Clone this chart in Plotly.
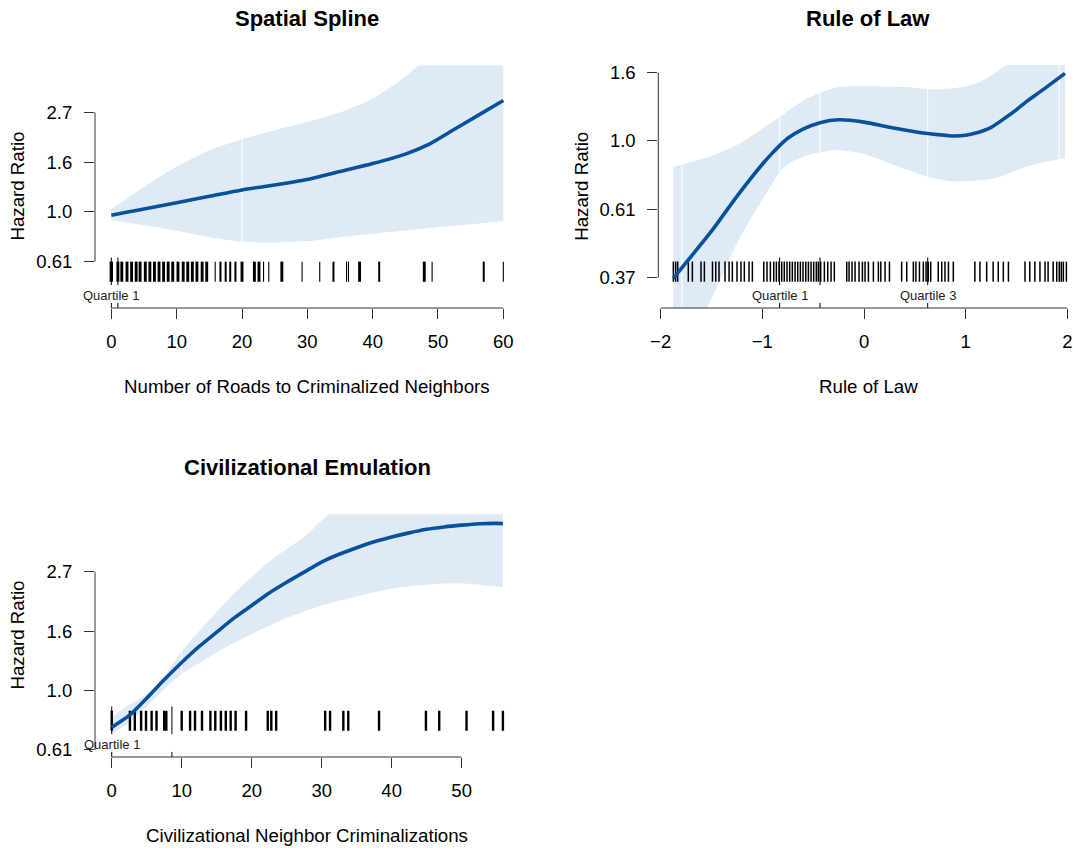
import numpy as np
import plotly.graph_objects as go

W, H = 1073, 848
FONT = "Liberation Sans, Arial, Helvetica, sans-serif"
FIT_COLOR = "#08519c"
BAND_COLOR = "#deebf7"
AXIS_COLOR = "#333333"

# ---------------- data (log hazard ratio scale) ----------------
# Spatial spline: number of roads to criminalized neighbours
roads_x = [0, 2.5, 5, 10, 15, 20, 25, 30, 35, 40, 45, 48.5, 52, 56, 60]
roads_fit = [-0.035, -0.003, 0.029, 0.092, 0.156, 0.22, 0.27, 0.325, 0.405, 0.485, 0.58, 0.675, 0.81, 0.965, 1.12]
roads_hi = [0.03, 0.14, 0.25, 0.455, 0.62, 0.73, 0.82, 0.905, 1.0, 1.14, 1.36, 1.56, 1.76, 2.0, 2.25]
roads_lo = [-0.085, -0.11, -0.135, -0.19, -0.255, -0.30, -0.31, -0.295, -0.255, -0.22, -0.187, -0.165, -0.143, -0.12, -0.096]
roads_rug = [0, 1, 1.6, 2.4, 3.1, 3.8, 4.4, 5.2, 5.9, 6.6, 7.3, 8.0, 8.7, 9.4, 10.2, 11.0, 11.7,
             12.4, 13.1, 13.9, 14.6, 15.9, 16.7, 17.5, 18.2, 19.0, 20.0, 21.9, 22.6, 23.3, 24.1,
             26.1, 29.2, 31.9, 34.0, 36.0, 36.3, 38.0, 41.0, 47.9, 49.1, 57.0, 60.0]
roads_rug_n = [4, 3, 3, 3, 3, 3, 3, 3, 3, 3, 3, 3, 3, 3, 3, 3, 3,
               3, 3, 3, 3, 1, 2, 2, 2, 2, 3, 3, 3, 1, 1,
               3, 1, 1, 2, 1, 1, 3, 2, 3, 1, 2, 1]
roads_seams = [20]
roads_quart = [0, 1]
roads_quart_lab = ["Quartile 1", ""]

# Rule of law
rol_x = [-1.875, -1.75, -1.5, -1.25, -1.0, -0.9, -0.826, -0.75, -0.6, -0.433, -0.25, 0, 0.25, 0.5,
         0.626, 0.75, 0.875, 1.0, 1.1, 1.25, 1.4, 1.5, 1.6, 1.75, 1.976]
rol_fit = [-1.005, -0.89, -0.66, -0.405, -0.17, -0.087, -0.03, 0.02, 0.087, 0.134, 0.155, 0.138, 0.10, 0.068,
           0.055, 0.045, 0.037, 0.042, 0.058, 0.10, 0.175, 0.23, 0.29, 0.37, 0.495]
rol_hi = [-0.19, -0.163, -0.11, -0.03, 0.09, 0.14, 0.178, 0.22, 0.295, 0.353, 0.395, 0.40, 0.398, 0.39,
          0.378, 0.378, 0.385, 0.40, 0.42, 0.48, 0.56, 0.64, 0.72, 0.84, 1.05]
rol_lo = [-1.83, -1.58, -1.155, -0.75, -0.43, -0.31, -0.224, -0.17, -0.115, -0.083, -0.066, -0.095, -0.165, -0.23,
          -0.261, -0.282, -0.297, -0.295, -0.29, -0.278, -0.245, -0.215, -0.188, -0.16, -0.127]
rol_rug = [-1.875, -1.852, -1.832, -1.728, -1.688, -1.603, -1.57, -1.49, -1.458, -1.426, -1.367,
           -1.327, -1.295, -1.249, -1.21, -1.177, -1.131, -1.098, -0.986, -0.954, -0.921, -0.888,
           -0.862, -0.836, -0.809, -0.784, -0.757, -0.731, -0.705, -0.678, -0.652, -0.626, -0.6,
           -0.573, -0.547, -0.521, -0.495, -0.469, -0.449, -0.426, -0.39, -0.357, -0.324, -0.292,
           -0.17, -0.147, -0.118, -0.088, -0.049, -0.016, 0.01, 0.043, 0.092, 0.141, 0.165, 0.207,
           0.25, 0.37, 0.42, 0.485, 0.51, 0.545, 0.583, 0.61, 0.632, 0.656, 0.73, 0.764, 0.796,
           0.83, 0.878, 1.09, 1.14, 1.206, 1.27, 1.32, 1.37, 1.42, 1.583, 1.63, 1.68, 1.73, 1.78,
           1.81, 1.86, 1.895, 1.92, 1.94, 1.96, 1.99]
rol_seams = [-1.79, -0.83, -0.433, 0.626, 1.92]
rol_quart = [-0.83, -0.433, 0.626]
rol_quart_lab = ["Quartile 1", "", "Quartile 3"]

# Civilizational emulation
civ_x = [0, 2.5, 5, 7.5, 10, 12.5, 15, 17.5, 20, 22.5, 25, 27.5, 30, 32.5, 35, 37.5, 40, 42.5,
         45, 47.5, 50, 52.5, 55, 55.9]
civ_fit = [-0.31, -0.21, -0.065, 0.09, 0.235, 0.37, 0.49, 0.61, 0.715, 0.82, 0.91, 0.995, 1.08,
           1.145, 1.2, 1.25, 1.29, 1.325, 1.355, 1.375, 1.39, 1.402, 1.405, 1.403]
civ_hi = [-0.22, -0.12, -0.03, 0.12, 0.33, 0.5, 0.66, 0.82, 0.955, 1.085, 1.19, 1.29, 1.43, 1.56,
          1.68, 1.78, 1.88, 1.95, 2.0, 2.04, 2.07, 2.09, 2.1, 2.1]
civ_lo = [-0.37, -0.27, -0.135, 0.01, 0.14, 0.23, 0.32, 0.40, 0.475, 0.545, 0.61, 0.665, 0.715,
          0.755, 0.79, 0.825, 0.855, 0.875, 0.89, 0.9, 0.9, 0.89, 0.875, 0.87]
civ_rug = [0, 2.6, 3.3, 4.2, 4.9, 5.7, 6.4, 7.5, 7.8, 10.0, 11.2, 11.9, 12.9, 14.1, 14.8, 15.6,
           16.3, 17.0, 17.7, 19.2, 22.3, 22.8, 23.5, 30.5, 31.2, 33.1, 33.8, 38.2, 44.9, 46.8,
           50.7, 54.5, 55.9]
civ_seams = [10]
civ_quart = [0, 8.6]
civ_quart_lab = ["Quartile 1", ""]

# y ticks sit at log HR = -1, -0.5, 0, 0.5, 1
hr_ticks_a = [-0.5, 0, 0.5, 1]
hr_labels_a = ["0.61", "1.0", "1.6", "2.7"]
hr_ticks_b = [-1, -0.5, 0, 0.5]
hr_labels_b = ["0.37", "0.61", "1.0", "1.6"]

panels = [
    dict(title="Spatial Spline", xtitle="Number of Roads to Criminalized Neighbors",
         x=roads_x, fit=roads_fit, hi=roads_hi, lo=roads_lo,
         rug=roads_rug, rug_n=roads_rug_n, rug_w=2.2, seams=roads_seams,
         quart=roads_quart, quart_lab=roads_quart_lab,
         xticks=[0, 10, 20, 30, 40, 50, 60], xlabels=["0", "10", "20", "30", "40", "50", "60"],
         yticks=hr_ticks_a, ylabels=hr_labels_a, cx=307,
         px=(95, 519), py=(65.2, 308), xrange=[-2.5, 62.4], yrange=[-0.968, 1.475]),
    dict(title="Rule of Law", xtitle="Rule of Law",
         x=rol_x, fit=rol_fit, hi=rol_hi, lo=rol_lo,
         rug=rol_rug, rug_n=None, rug_w=1.5, seams=rol_seams,
         quart=rol_quart, quart_lab=rol_quart_lab,
         xticks=[-2, -1, 0, 1, 2], xlabels=["\u22122", "\u22121", "0", "1", "2"],
         yticks=hr_ticks_b, ylabels=hr_labels_b, cx=868,
         px=(658.3, 1073), py=(65, 308), xrange=[-2.023, 2.055], yrange=[-1.222, 0.556]),
    dict(title="Civilizational Emulation", xtitle="Civilizational Neighbor Criminalizations",
         x=civ_x, fit=civ_fit, hi=civ_hi, lo=civ_lo,
         rug=civ_rug, rug_n=None, rug_w=2.4, seams=civ_seams,
         quart=civ_quart, quart_lab=civ_quart_lab,
         xticks=[0, 10, 20, 30, 40, 50], xlabels=["0", "10", "20", "30", "40", "50"],
         yticks=hr_ticks_a, ylabels=hr_labels_a, cx=307,
         px=(95, 519), py=(514.2, 757), xrange=[-2.39, 58.2], yrange=[-0.559, 1.482]),
]

# rug / quartile marker heights as fractions of the panel height
RUG_Y = (0.108, 0.191)
QLINE_Y = (0.094, 0.208)
QTICK_Y = (0.0, 0.021)
QLAB_Y = 0.052
RUG_WIDTHS = {1: 1.1, 2: 2.0, 3: 2.9, 4: 3.4}
SMOOTH = dict(shape="spline", smoothing=0.7)


def to_data(frac, yr):
    return yr[0] + frac * (yr[1] - yr[0])


fig = go.Figure()
layout = dict(annotations=[], shapes=[])

for i, p in enumerate(panels, start=1):
    sfx = "" if i == 1 else str(i)
    xa, ya = "x" + sfx, "y" + sfx
    x = np.array(p["x"], dtype=float)
    fit = np.array(p["fit"], dtype=float)
    hi = np.array(p["hi"], dtype=float)
    lo = np.array(p["lo"], dtype=float)
    yr = p["yrange"]

    # confidence band: lower edge, then upper edge filled down to it
    fig.add_trace(go.Scatter(x=x, y=lo, mode="lines", line=dict(width=0, **SMOOTH),
                             hoverinfo="skip", showlegend=False, xaxis=xa, yaxis=ya))
    fig.add_trace(go.Scatter(x=x, y=hi, mode="lines", line=dict(width=0, **SMOOTH),
                             fill="tonexty", fillcolor=BAND_COLOR,
                             hoverinfo="skip", showlegend=False, xaxis=xa, yaxis=ya))

    # thin white seams between band pieces
    sx, sy = [], []
    for s in p["seams"]:
        sx += [s, s, None]
        sy += [float(np.interp(s, x, lo)), float(np.interp(s, x, hi)), None]
    fig.add_trace(go.Scatter(x=sx, y=sy, mode="lines", line=dict(color="white", width=1),
                             hoverinfo="skip", showlegend=False, xaxis=xa, yaxis=ya))

    # rug of observed values
    r0, r1 = to_data(RUG_Y[0], yr), to_data(RUG_Y[1], yr)
    groups = {}
    if p["rug_n"] is not None:
        for v, n in zip(p["rug"], p["rug_n"]):
            groups.setdefault(RUG_WIDTHS[n], []).append(v)
    else:
        groups[p["rug_w"]] = list(p["rug"])
    for width, vals in sorted(groups.items()):
        gx, gy = [], []
        for v in vals:
            gx += [v, v, None]
            gy += [r0, r1, None]
        fig.add_trace(go.Scatter(x=gx, y=gy, mode="lines", line=dict(color="black", width=width),
                                 hoverinfo="skip", showlegend=False, xaxis=xa, yaxis=ya))

    # quartile markers
    qx, qy = [], []
    q0, q1 = to_data(QLINE_Y[0], yr), to_data(QLINE_Y[1], yr)
    t0, t1 = to_data(QTICK_Y[0], yr), to_data(QTICK_Y[1], yr)
    for q in p["quart"]:
        qx += [q, q, None, q, q, None]
        qy += [q0, q1, None, t0, t1, None]
    fig.add_trace(go.Scatter(x=qx, y=qy, mode="lines", line=dict(color="black", width=1),
                             hoverinfo="skip", showlegend=False, xaxis=xa, yaxis=ya))
    for q, lab in zip(p["quart"], p["quart_lab"]):
        if lab:
            layout["annotations"].append(dict(
                text=lab, x=q, y=QLAB_Y, xref=xa, yref=ya + " domain", showarrow=False,
                xanchor="center", yanchor="middle", font=dict(family=FONT, size=13, color="#222")))

    # fitted curve
    fig.add_trace(go.Scatter(x=x, y=fit, mode="lines",
                             line=dict(color=FIT_COLOR, width=3.6, **SMOOTH),
                             hoverinfo="skip", showlegend=False, xaxis=xa, yaxis=ya))

    xd = [p["px"][0] / W, min(p["px"][1] / W, 1.0)]
    yd = [1 - p["py"][1] / H, 1 - p["py"][0] / H]
    layout["xaxis" + sfx] = dict(
        domain=xd, range=p["xrange"], anchor=ya, tickmode="array",
        tickvals=p["xticks"], ticktext=p["xlabels"], ticks="outside", ticklen=10,
        tickwidth=1, tickcolor=AXIS_COLOR, showline=False, showgrid=False, zeroline=False,
        tickfont=dict(family=FONT, size=18.5, color="black"), ticklabelstandoff=7,
        automargin=False, fixedrange=True)
    layout["yaxis" + sfx] = dict(
        domain=yd, range=yr, anchor=xa, tickmode="array",
        tickvals=p["yticks"], ticktext=p["ylabels"], ticks="outside", ticklen=10,
        tickwidth=1, tickcolor=AXIS_COLOR, showline=False, showgrid=False, zeroline=False,
        tickfont=dict(family=FONT, size=18.5, color="black"), ticklabelstandoff=8,
        automargin=False, fixedrange=True)

    # axis lines spanning the first to last tick
    layout["shapes"].append(dict(type="line", xref=xa, yref=ya + " domain",
                                 x0=p["xticks"][0], x1=p["xticks"][-1], y0=0, y1=0,
                                 line=dict(color=AXIS_COLOR, width=1)))
    layout["shapes"].append(dict(type="line", xref=xa + " domain", yref=ya,
                                 x0=0, x1=0, y0=p["yticks"][0], y1=p["yticks"][-1],
                                 line=dict(color=AXIS_COLOR, width=1)))

    # titles
    cx = p["cx"]
    top, bottom = p["py"]
    layout["annotations"].append(dict(
        text="<b>" + p["title"] + "</b>", x=cx / W, y=1 - (top - 47) / H, xref="paper",
        yref="paper", showarrow=False, xanchor="center", yanchor="middle",
        font=dict(family=FONT, size=22, color="black")))
    layout["annotations"].append(dict(
        text=p["xtitle"], x=cx / W, y=1 - (bottom + 78) / H, xref="paper", yref="paper",
        showarrow=False, xanchor="center", yanchor="middle",
        font=dict(family=FONT, size=18.7, color="black")))
    layout["annotations"].append(dict(
        text="Hazard Ratio", x=(p["px"][0] - 77) / W, y=1 - (top + bottom) / 2 / H,
        xref="paper", yref="paper", showarrow=False, textangle=-90,
        xanchor="center", yanchor="middle", font=dict(family=FONT, size=18.7, color="black")))

fig.update_layout(
    template="none", width=W, height=H, margin=dict(l=0, r=0, t=0, b=0),
    paper_bgcolor="white", plot_bgcolor="white", showlegend=False,
    font=dict(family=FONT), **layout)

fig.write_html("out.html")
